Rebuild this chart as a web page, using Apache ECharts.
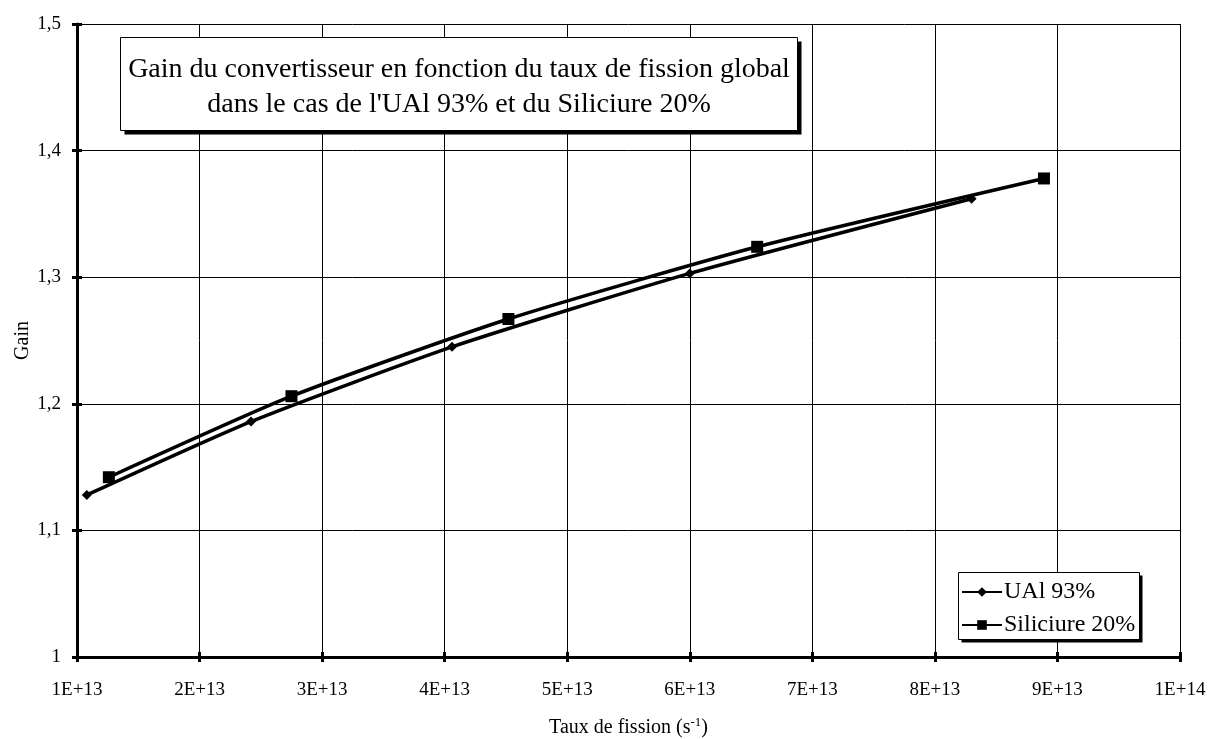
<!DOCTYPE html>
<html>
<head>
<meta charset="utf-8">
<script src="https://cdn.jsdelivr.net/npm/echarts@6/dist/echarts.min.js"></script>
<style>
html,body{margin:0;padding:0;background:#fff;}
#chart{width:1208px;height:739px;}
</style>
</head>
<body>
<div id="chart"></div>
<script>
const titleLines = ["Gain du convertisseur en fonction du taux de fission global", "dans le cas de l'UAl 93% et du Siliciure 20%"];
const seriesNames = ["UAl 93%", "Siliciure 20%"];
const ualX = [1.08e13, 2.42e13, 4.06e13, 6.00e13, 8.30e13];
const ualY = [1.128, 1.186, 1.245, 1.303, 1.362];
const silX = [1.26e13, 2.75e13, 4.52e13, 6.55e13, 8.89e13];
const silY = [1.142, 1.206, 1.267, 1.324, 1.378];
const xTickValues = [1e13, 2e13, 3e13, 4e13, 5e13, 6e13, 7e13, 8e13, 9e13, 1e14];
const xTickLabels = ["1E+13", "2E+13", "3E+13", "4E+13", "5E+13", "6E+13", "7E+13", "8E+13", "9E+13", "1E+14"];
const yTickValues = [1, 1.1, 1.2, 1.3, 1.4, 1.5];
const yTickLabels = ["1", "1,1", "1,2", "1,3", "1,4", "1,5"];

const font = "Liberation Serif";
function lookup(vals, labels, v) {
  for (let i = 0; i < vals.length; i++) {
    if (Math.abs(vals[i] - v) < Math.abs(vals[i]) * 1e-6 + 1e-9) return labels[i];
  }
  return "";
}
function boxWithShadow(x, y, w, h, off) {
  return [
    {type: 'rect', z: 1, shape: {x: x + off, y: y + off, width: w, height: h}, style: {fill: '#000'}, silent: true},
    {type: 'rect', z: 1, shape: {x: x, y: y, width: w, height: h}, style: {fill: '#fff', stroke: '#000', lineWidth: 1}, silent: true}
  ];
}
const chart = echarts.init(document.getElementById('chart'), null, {renderer: 'canvas'});
const xAxisBase = {
  type: 'value', min: 1e13, max: 1e14, interval: 1e13
};
const yAxisBase = {
  type: 'value', min: 1, max: 1.5, interval: 0.1
};
chart.setOption({
  backgroundColor: '#fff',
  animation: false,
  textStyle: {fontFamily: font, color: '#000'},
  graphic: [
    ...boxWithShadow(120.5, 37.5, 677, 93, 4),
    {
      type: 'text', z: 3, silent: true,
      x: 459, y: 52,
      style: {
        text: titleLines.join('\n'),
        font: '28px "Liberation Serif"',
        fill: '#000',
        textAlign: 'center',
        textVerticalAlign: 'top',
        lineHeight: 35
      }
    },
    ...boxWithShadow(958.5, 572.5, 181, 67, 3)
  ],
  legend: {
    left: 961,
    top: 580,
    z: 5,
    orient: 'vertical',
    itemGap: 9,
    itemWidth: 40,
    itemHeight: 12,
    padding: 0,
    textStyle: {fontFamily: font, fontSize: 24, color: '#000', padding: [0, 0, 0, -3]},
    data: seriesNames
  },
  grid: {left: 77, right: 28, top: 24, bottom: 82, containLabel: false, outerBoundsMode: 'none'},
  xAxis: [
    Object.assign({}, xAxisBase, {
      name: '{a|Taux de fission (s}{s|-1}{a|)}',
      nameLocation: 'middle',
      nameGap: 59,
      nameMoveOverlap: false,
      nameTextStyle: {
        rich: {
          a: {fontFamily: font, fontSize: 20, color: '#000'},
          s: {fontFamily: font, fontSize: 13, color: '#000', verticalAlign: 'top', padding: [0, 0, 10, 0]}
        }
      },
      axisLine: {lineStyle: {color: '#000', width: 3}},
      axisTick: {show: true, length: 5, lineStyle: {color: '#000', width: 3}},
      axisLabel: {
        fontFamily: font, fontSize: 19, color: '#000', margin: 24,
        formatter: v => lookup(xTickValues, xTickLabels, v)
      },
      splitLine: {show: true, lineStyle: {color: '#000', width: 1}}
    }),
    Object.assign({}, xAxisBase, {
      position: 'bottom',
      axisLine: {show: false},
      axisTick: {show: true, inside: true, length: 5, lineStyle: {color: '#000', width: 3}},
      axisLabel: {show: false},
      splitLine: {show: false}
    })
  ],
  yAxis: [
    Object.assign({}, yAxisBase, {
      name: 'Gain',
      nameLocation: 'middle',
      nameGap: 44,
      nameMoveOverlap: false,
      nameRotate: 90,
      nameTextStyle: {fontFamily: font, fontSize: 20, color: '#000'},
      axisLine: {show: true, lineStyle: {color: '#000', width: 3}},
      axisTick: {show: true, length: 5, lineStyle: {color: '#000', width: 3}},
      axisLabel: {
        fontFamily: font, fontSize: 19, color: '#000', margin: 16,
        formatter: v => lookup(yTickValues, yTickLabels, v)
      },
      splitLine: {show: true, lineStyle: {color: '#000', width: 1}}
    }),
    Object.assign({}, yAxisBase, {
      position: 'left',
      axisLine: {show: false},
      axisTick: {show: true, inside: true, length: 5, lineStyle: {color: '#000', width: 3}},
      axisLabel: {show: false},
      splitLine: {show: false}
    })
  ],
  series: [
    {
      name: seriesNames[0],
      type: 'line',
      data: ualX.map((x, i) => [x, ualY[i]]),
      smooth: 0.2,
      symbol: 'diamond',
      symbolSize: 10,
      itemStyle: {color: '#000'},
      lineStyle: {color: '#000', width: 3.5}
    },
    {
      name: seriesNames[1],
      type: 'line',
      data: silX.map((x, i) => [x, silY[i]]),
      smooth: 0.2,
      symbol: 'rect',
      symbolSize: 12,
      itemStyle: {color: '#000'},
      lineStyle: {color: '#000', width: 3.5}
    }
  ]
});
</script>
</body>
</html>
